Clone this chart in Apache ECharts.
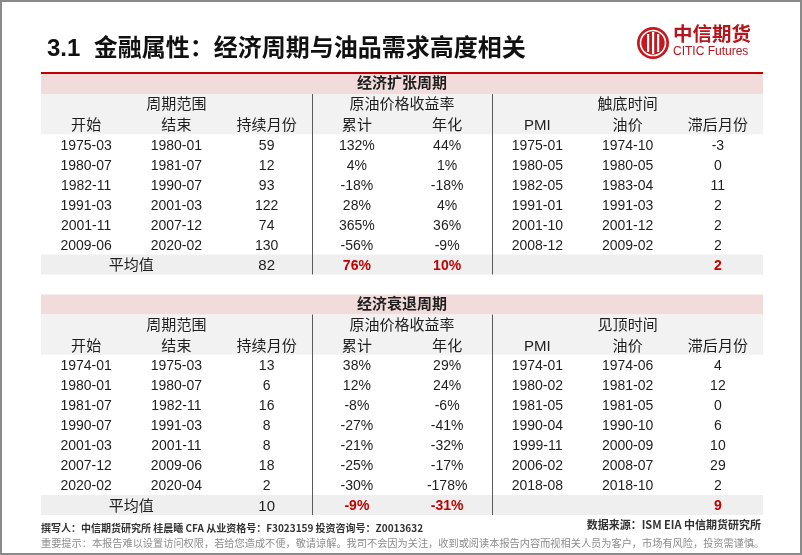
<!DOCTYPE html>
<html><head><meta charset="utf-8">
<script src="https://cdn.jsdelivr.net/npm/echarts@6/dist/echarts.min.js"></script>
<style>html,body{margin:0;padding:0;background:#fff}#c{width:802px;height:555px}</style>
</head><body><div id="c"></div>
<script>
// ---- data: 经济扩张周期 ----
const expStart  = ['1975-03','1980-07','1982-11','1991-03','2001-11','2009-06'];
const expEnd    = ['1980-01','1981-07','1990-07','2001-03','2007-12','2020-02'];
const expMonths = [59, 12, 93, 122, 74, 130];
const expCum    = [132, 4, -18, 28, 365, -56];
const expAnn    = [44, 1, -18, 4, 36, -9];
const expPmi    = ['1975-01','1980-05','1982-05','1991-01','2001-10','2008-12'];
const expOil    = ['1974-10','1980-05','1983-04','1991-03','2001-12','2009-02'];
const expLag    = [-3, 0, 11, 2, 2, 2];
const expAvg    = [82, 76, 10, 2];   // 持续月份, 累计%, 年化%, 滞后月份
// ---- data: 经济衰退周期 ----
const recStart  = ['1974-01','1980-01','1981-07','1990-07','2001-03','2007-12','2020-02'];
const recEnd    = ['1975-03','1980-07','1982-11','1991-03','2001-11','2009-06','2020-04'];
const recMonths = [13, 6, 16, 8, 8, 18, 2];
const recCum    = [38, 12, -8, -27, -21, -25, -30];
const recAnn    = [29, 24, -6, -41, -32, -17, -178];
const recPmi    = ['1974-01','1980-02','1981-05','1990-04','1999-11','2006-02','2018-08'];
const recOil    = ['1974-06','1981-02','1981-05','1990-10','2000-09','2008-07','2018-10'];
const recLag    = [4, 12, 0, 6, 10, 29, 2];
const recAvg    = [10, -9, -31, 9];
// ---- header labels ----
const colHeaders = ['开始','结束','持续月份','累计','年化','PMI','油价','滞后月份'];
const groupHeaders = ['周期范围','原油价格收益率'];
const avgLabel = '平均值';

const FONT = "'Liberation Sans','Noto Sans CJK SC',sans-serif";
const RED = '#c00000', INK = '#1e1e1e';
const PINK = '#f2dcdb', HGRAY = '#f2f2f2', AGRAY = '#efefef';

const cells = [];
function add(col, row, text, opt) {
  cells.push(Object.assign({ value: [col, row], text: String(text), size: 14, bold: false, color: INK }, opt || {}));
}
const pct = v => v + '%';
const bands = [], vlines = [];

function section(base, title, timeHdr, start, end, months, cum, ann, pmi, oil, lag, avg) {
  const n = start.length;
  bands.push([0, base, 8, base + 1, PINK]);
  bands.push([0, base + 1, 8, base + 3, HGRAY]);
  bands.push([0, base + 3 + n, 8, base + 4 + n, AGRAY]);
  vlines.push([3, base + 1, base + 4 + n]);
  vlines.push([5, base + 1, base + 4 + n]);
  add(4, base + 0.5, title, { size: 15, bold: true });
  add(1.5, base + 1.55, groupHeaders[0], { size: 15 });
  add(4, base + 1.55, groupHeaders[1], { size: 15 });
  add(6.5, base + 1.55, timeHdr, { size: 15 });
  colHeaders.forEach((t, i) => add(i + 0.5, base + 2.6, t, { size: 15 }));
  for (let r = 0; r < n; r++) {
    const y = base + 3 + r + 0.58;
    [start[r], end[r], months[r], pct(cum[r]), pct(ann[r]), pmi[r], oil[r], lag[r]]
      .forEach((v, i) => add(i + 0.5, y, v));
  }
  const ay = base + 3 + n + 0.58;
  add(1, ay, avgLabel, { size: 15 });
  add(2.5, ay, avg[0], { size: 15 });
  add(3.5, ay, pct(avg[1]), { size: 14, bold: true, color: RED });
  add(4.5, ay, pct(avg[2]), { size: 14, bold: true, color: RED });
  add(7.5, ay, avg[3], { size: 14, bold: true, color: RED });
}
section(0, '经济扩张周期', '触底时间', expStart, expEnd, expMonths, expCum, expAnn, expPmi, expOil, expLag, expAvg);
section(11, '经济衰退周期', '见顶时间', recStart, recEnd, recMonths, recCum, recAnn, recPmi, recOil, recLag, recAvg);

const chart = echarts.init(document.getElementById('c'), null, { renderer: 'canvas' });
chart.setOption({
  animation: false,
  backgroundColor: '#fff',
  grid: { left: 41, right: 39, top: 74, bottom: 40 },
  xAxis: { type: 'value', min: 0, max: 8, show: false },
  yAxis: { type: 'value', min: 0, max: 22, inverse: true, show: false },
  graphic: [
    { type: 'rect', shape: { x: 1, y: 1, width: 800, height: 553 }, style: { fill: 'none', stroke: '#8a8a8a', lineWidth: 2 }, z: 100 },
    { type: 'text', left: 47, top: 37, style: { text: '3.1  金融属性：经济周期与油品需求高度相关', font: "bold 24px 'Liberation Sans','Noto Sans CJK SC',sans-serif", fill: '#111' } },
    { type: 'line', shape: { x1: 41, y1: 73, x2: 763, y2: 73 }, style: { stroke: '#c00000', lineWidth: 2 }, z: 50 },
    // logo
    { type: 'circle', shape: { cx: 653, cy: 43, r: 16 }, style: { fill: '#c8161d' } },
    { type: 'circle', shape: { cx: 653, cy: 43, r: 12.5 }, style: { fill: 'none', stroke: '#fff', lineWidth: 1.6 } },
    { type: 'rect', shape: { x: 647, y: 34, width: 2.2, height: 18 }, style: { fill: '#fff' } },
    { type: 'rect', shape: { x: 652, y: 32, width: 2.2, height: 22 }, style: { fill: '#fff' } },
    { type: 'rect', shape: { x: 657, y: 34, width: 2.2, height: 18 }, style: { fill: '#fff' } },
    { type: 'text', left: 673, top: 24, style: { text: '中信期货', font: "bold 19.5px 'Noto Sans CJK SC',sans-serif", fill: '#b8141b' } },
    { type: 'text', left: 673, top: 46, style: { text: 'CITIC Futures', font: "12px 'Liberation Sans',sans-serif", fill: '#b8141b' } },
    // footer
    { type: 'text', left: 41, top: 523, style: { text: '撰写人：中信期货研究所 桂晨曦 CFA 从业资格号：F3023159 投资咨询号：Z0013632', font: "bold 10px 'Noto Sans CJK SC',sans-serif", fill: '#333' } },
    { type: 'text', right: 41, top: 519, style: { text: '数据来源：ISM EIA 中信期货研究所', font: "bold 11px 'Noto Sans CJK SC',sans-serif", fill: '#333' } },
    { type: 'text', left: 41, top: 538, style: { text: '重要提示：本报告难以设置访问权限，若给您造成不便，敬请谅解。我司不会因为关注，收到或阅读本报告内容而视相关人员为客户，市场有风险，投资需谨慎。', font: "10.2px 'Noto Sans CJK SC',sans-serif", fill: '#8c8c8c' } }
  ],
  series: [
    {
      type: 'custom', clip: false, z: 1,
      data: bands.map(b => b.slice(0, 4)),
      renderItem: (params, api) => {
        const p0 = api.coord([api.value(0), api.value(1)]);
        const p1 = api.coord([api.value(2), api.value(3)]);
        return { type: 'rect', shape: { x: p0[0], y: p0[1], width: p1[0] - p0[0], height: p1[1] - p0[1] },
                 style: { fill: bands[params.dataIndex][4] } };
      }
    },
    {
      type: 'custom', clip: false, z: 2,
      data: vlines,
      renderItem: (params, api) => {
        const p0 = api.coord([api.value(0), api.value(1)]);
        const p1 = api.coord([api.value(0), api.value(2)]);
        const x = Math.round(p0[0]) + 0.5;
        return { type: 'line', shape: { x1: x, y1: p0[1], x2: x, y2: p1[1] }, style: { stroke: '#5a5a5a', lineWidth: 1 } };
      }
    },
    {
      type: 'custom', clip: false, z: 3,
      data: cells.map(c => c.value),
      renderItem: (params, api) => {
        const c = cells[params.dataIndex];
        const p = api.coord([api.value(0), api.value(1)]);
        return { type: 'text', x: p[0], y: p[1],
                 style: { text: c.text, fill: c.color, fontSize: c.size, fontFamily: FONT,
                          fontWeight: c.bold ? 'bold' : 'normal', align: 'center', verticalAlign: 'middle' } };
      }
    }
  ]
});
</script>
</body></html>
